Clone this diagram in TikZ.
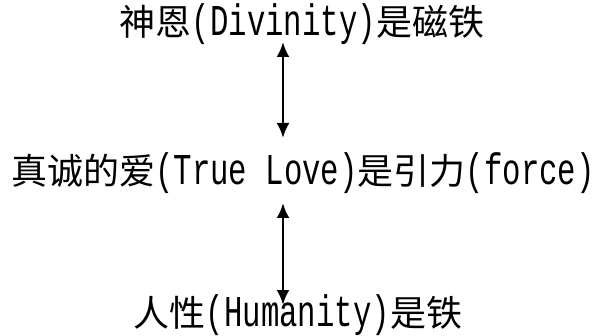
\documentclass[tikz,border=0pt]{standalone}
\usepackage{fontspec}
\usetikzlibrary{arrows.meta}
\newfontfamily\zhfont{Noto Sans CJK SC}
\newfontfamily\enfont[FakeStretch=0.697]{Liberation Mono}
\newcommand{\zh}[1]{{\fontsize{36}{40}\zhfont #1}}
\newcommand{\en}[1]{{\fontsize{44}{48}\enfont #1}}
\begin{document}
\begin{tikzpicture}[x=1pt,y=1pt,
  lbl/.style={anchor=base,inner sep=0pt,text=black},
  dbl/.style={{Latex[length=15pt,width=13pt]}-{Latex[length=15pt,width=13pt]},line width=2.6pt,black}]
\useasboundingbox[fill=white] (0,0) rectangle (608,335);
\node[lbl] (top) at (302,299) {\zh{神恩}\en{(Divinity)}\zh{是磁铁}};
\node[lbl] (mid) at (303,150) {\zh{真诚的爱}\en{(True Love)}\zh{是引力}\en{(force)}};
\node[lbl] (bot) at (298,9) {\zh{人性}\en{(Humanity)}\zh{是铁}};
\coordinate (a1) at (283,293);
\coordinate (a2) at (283,197);
\coordinate (b1) at (283,132);
\coordinate (b2) at (283,30);
\draw[dbl] (a1) -- (a2);
\draw[dbl] (b1) -- (b2);
\end{tikzpicture}
\end{document}
